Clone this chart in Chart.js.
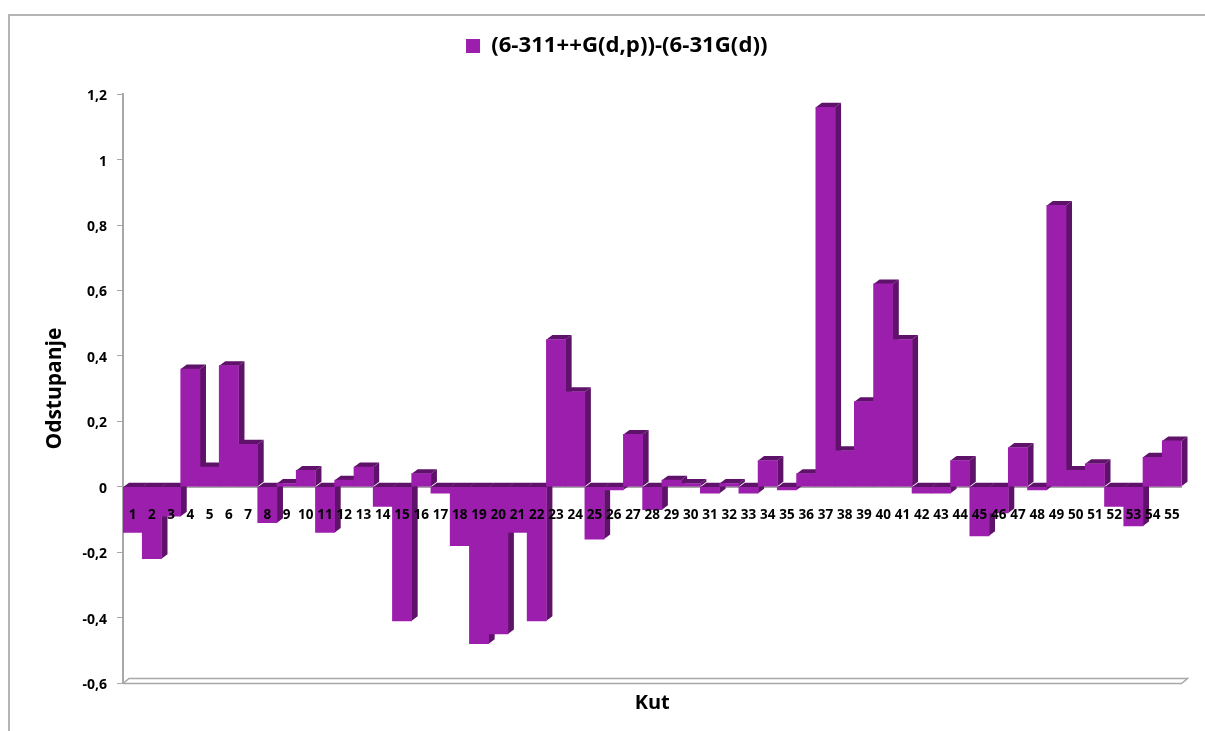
<!DOCTYPE html>
<html>
<head>
<meta charset="utf-8">
<style>
  html, body { margin: 0; padding: 0; background: #fff; overflow: hidden; }
  #wrap { position: relative; width: 1205px; height: 731px; }
  #frame { position: absolute; left: 8px; top: 14px; right: 0; bottom: 0; border-top: 2px solid #b4b4b4; border-left: 2px solid #b4b4b4; }
</style>
<script src="https://cdn.jsdelivr.net/npm/chart.js@4"></script>
</head>
<body>
<div id="wrap">
  <div id="frame"></div>
  <canvas id="chart" width="1205" height="731"></canvas>
</div>
<script>
const categories = [
  "1","2","3","4","5","6","7","8","9","10","11","12","13","14","15","16","17","18","19","20",
  "21","22","23","24","25","26","27","28","29","30","31","32","33","34","35","36","37","38","39","40",
  "41","42","43","44","45","46","47","48","49","50","51","52","53","54","55"
];
const deviations = [
  -0.14,-0.22,-0.09,0.36,0.06,0.37,0.13,-0.11,0.01,0.05,
  -0.14,0.02,0.06,-0.06,-0.41,0.04,-0.02,-0.18,-0.48,-0.45,
  -0.14,-0.41,0.45,0.29,-0.16,-0.01,0.16,-0.07,0.02,0.01,
  -0.02,0.01,-0.02,0.08,-0.01,0.04,1.16,0.11,0.26,0.62,
  0.45,-0.02,-0.02,0.08,-0.15,-0.08,0.12,-0.01,0.86,0.05,
  0.07,-0.06,-0.12,0.09,0.14
];
const yTickLabels = ["-0,6","-0,4","-0,2","0","0,2","0,4","0,6","0,8","1","1,2"];

const seriesName = "(6-311++G(d,p))-(6-31G(d))";
const front = "#9b1eac";
const dark = "#5f1269";
const grey = "#a8a8a8";
const depthX = 6;
const depthY = 4.5;

function poly(ctx, pts, color) {
  ctx.fillStyle = color;
  ctx.beginPath();
  pts.forEach((p, i) => i ? ctx.lineTo(p[0], p[1]) : ctx.moveTo(p[0], p[1]));
  ctx.closePath();
  ctx.fill();
}

// fake 3D: floor plus the top and right faces of each bar, left to right
const depthPlugin = {
  id: "depth",
  beforeInit(chart) {
    // extra gap under the legend
    const fit = chart.legend.fit;
    chart.legend.fit = function () {
      fit.call(this);
      this.height += 27;
    };
  },
  beforeDatasetsDraw(chart) {
    const ctx = chart.ctx;
    const { left, right, bottom } = chart.chartArea;
    ctx.save();
    ctx.strokeStyle = grey;
    ctx.lineWidth = 1.5;
    ctx.beginPath();
    ctx.moveTo(left, bottom + 0.5);
    ctx.lineTo(right, bottom + 0.5);
    ctx.lineTo(right + depthX, bottom - depthY);
    ctx.lineTo(left + depthX, bottom - depthY);
    ctx.lineTo(left, bottom + 0.5);
    ctx.stroke();

    chart.getDatasetMeta(0).data.forEach(el => {
      const { x, y, base, width } = el.getProps(["x", "y", "base", "width"], true);
      const l = x - width / 2, r = x + width / 2;
      const t = Math.min(y, base), b = Math.max(y, base);
      poly(ctx, [[r, t], [r + depthX, t - depthY], [r + depthX, b - depthY], [r, b]], dark);
      poly(ctx, [[l, t], [r, t], [r + depthX, t - depthY], [l + depthX, t - depthY]], dark);
    });
    ctx.restore();
  }
};

new Chart(document.getElementById("chart"), {
  type: "bar",
  data: {
    labels: categories,
    datasets: [{
      label: seriesName,
      data: deviations,
      backgroundColor: front,
      borderWidth: 0,
      barPercentage: 1,
      categoryPercentage: 1
    }]
  },
  plugins: [depthPlugin],
  options: {
    responsive: false,
    animation: false,
    layout: { padding: { left: 52, right: 23.5, top: 0, bottom: 16 } },
    plugins: {
      tooltip: { enabled: false },
      legend: {
        position: "top",
        labels: {
          color: "#000",
          boxWidth: 14,
          boxHeight: 14,
          padding: 35,
          font: { family: "Open Sans", size: 22.2, weight: "bold" }
        }
      },
      title: {
        display: true,
        position: "bottom",
        fullSize: false,
        text: "Kut",
        color: "#000",
        padding: { top: 8, bottom: 0 },
        font: { family: "Open Sans", size: 20, weight: "bold" }
      }
    },
    scales: {
      x: {
        position: { y: 0 },
        grid: { display: false, drawTicks: false },
        border: { color: grey, width: 2 },
        ticks: {
          z: 1,
          color: "#000",
          padding: 20,
          autoSkip: false,
          maxRotation: 0,
          font: { family: "Noto Sans", size: 13.5, weight: "bold" }
        }
      },
      y: {
        min: -0.6,
        max: 1.2,
        afterFit(scale) { scale.width = 71; },
        grid: { drawOnChartArea: false, tickLength: 6, color: grey },
        border: { color: grey, width: 2 },
        title: {
          display: true,
          text: "Odstupanje",
          color: "#000",
          padding: { top: -10, bottom: 0 },
          font: { family: "Open Sans", size: 21, weight: "bold" }
        },
        ticks: {
          stepSize: 0.2,
          color: "#000",
          padding: 10,
          labelOffset: 2,
          font: { family: "Noto Sans", size: 14, weight: "bold" },
          callback: (v, i) => yTickLabels[i]
        }
      }
    }
  }
});
</script>
</body>
</html>
